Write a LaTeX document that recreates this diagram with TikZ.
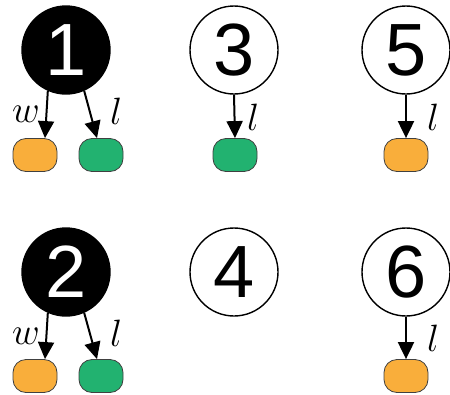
\documentclass[tikz,border=0pt]{standalone}
\usepackage{graphicx}
\usepackage{fontspec}
\newfontfamily\numfont{Liberation Sans}
\usetikzlibrary{arrows.meta}
\definecolor{boxorange}{RGB}{249,174,59}
\definecolor{boxgreen}{RGB}{34,178,112}
\newcommand{\biglab}[1]{\scalebox{1.53}{\fontsize{24.88}{26}\selectfont$#1$}}
\begin{document}
\begin{tikzpicture}[x=1pt,y=-1pt,
 state/.style={circle, draw=black, line width=1.4pt, minimum size=88pt, inner sep=0pt, font=\numfont\fontsize{74}{74}\selectfont},
 dark/.style={state, fill=black, text=white},
 light/.style={state, fill=white, text=black},
 leaf/.style={rectangle, rounded corners=13pt, draw=black!75, line width=0.8pt, minimum width=44pt, minimum height=33pt, inner sep=0pt},
 oleaf/.style={leaf, fill=boxorange},
 gleaf/.style={leaf, fill=boxgreen},
 arr/.style={-{Triangle[length=17pt,width=16pt]}, line width=2pt},
 lab/.style={inner sep=0pt}
]
\useasboundingbox (0,0) rectangle (450,394);
% top row
\node[dark]  (c1) at (66,50) {1};
\node[light] (c3) at (234,50) {3};
\node[light] (c5) at (406,50) {5};
\node[oleaf] (o1) at (35,155) {};
\node[gleaf] (g1) at (101,155) {};
\node[gleaf] (g3) at (235,155) {};
\node[oleaf] (o5) at (406,155) {};
\draw[arr] (c1.246) -- ([xshift=10pt]o1.north);
\draw[arr] (c1.294) -- ([xshift=-4pt]g1.north);
\draw[arr] (c3.south) -- (g3.north);
\draw[arr] (c5.south) -- (o5.north);
\node[lab] (w1) at (26,114) {\biglab{w}};
\node[lab] (l1) at (116,111) {\biglab{l}};
\node[lab] (l3) at (253,117) {\biglab{l}};
\node[lab] (l5) at (433,117) {\biglab{l}};
% bottom row
\node[dark]  (c2) at (66,272) {2};
\node[light] (c4) at (234,272) {4};
\node[light] (c6) at (406,272) {6};
\node[oleaf] (o2) at (35,376) {};
\node[gleaf] (g2) at (101,376) {};
\node[oleaf] (o6) at (406,376) {};
\draw[arr] (c2.246) -- ([xshift=10pt]o2.north);
\draw[arr] (c2.294) -- ([xshift=-4pt]g2.north);
\draw[arr] (c6.south) -- (o6.north);
\node[lab] (w2) at (26,336) {\biglab{w}};
\node[lab] (l2) at (116,333) {\biglab{l}};
\node[lab] (l6) at (433,338) {\biglab{l}};
\end{tikzpicture}
\end{document}
